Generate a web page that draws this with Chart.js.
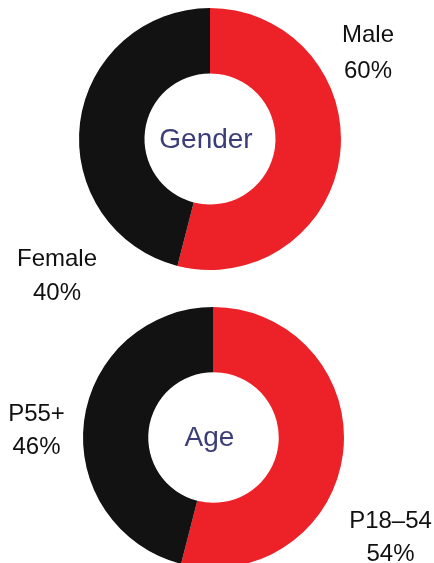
<!DOCTYPE html>
<html>
<head>
<meta charset="utf-8">
<script src="https://cdn.jsdelivr.net/npm/chart.js"></script>
<style>
  html, body { margin: 0; padding: 0; background: #fff; }
  body { width: 434px; height: 563px; overflow: hidden; position: relative; }
  .box { position: absolute; left: 0; width: 434px; }
</style>
</head>
<body>
<div class="box" style="top:0;height:320px"><canvas id="genderChart" width="434" height="320"></canvas></div>
<div class="box" style="top:290px;height:290px"><canvas id="ageChart" width="434" height="290"></canvas></div>
<script>
// data
const genderCategories = ["Male", "Female"];
const genderValues = [54, 46];          // share as drawn on the ring
const genderPercentText = ["60%", "40%"]; // text printed beside it
const ageCategories = ["P18–54", "P55+"];
const ageValues = [54, 46];
const agePercentText = ["54%", "46%"];

const RED = "#ed2229";
const BLACK = "#121212";

// draws the title in the hole and the two-line labels around the ring
const donutText = {
  id: "donutText",
  afterDraw(chart, args, opts) {
    const ctx = chart.ctx;
    const arc = chart.getDatasetMeta(0).data[0];
    const cx = arc.x, cy = arc.y;
    ctx.save();
    ctx.textAlign = "center";
    ctx.textBaseline = "middle";
    ctx.fillStyle = "#3b3d78";
    ctx.font = "28px 'Liberation Sans', Arial, sans-serif";
    ctx.fillText(opts.title, cx - 4, cy + 1);

    ctx.fillStyle = "#111";
    ctx.font = "24px 'Liberation Sans', Arial, sans-serif";
    const labels = chart.data.labels;
    opts.spots.forEach((s, i) => {
      ctx.fillText(labels[i], cx + s.dx, cy + s.dy1);
      ctx.fillText(opts.percents[i], cx + s.dx, cy + s.dy2);
    });
    ctx.restore();
  }
};

function makeDonut(id, labels, values, title, percents, padding, spots) {
  return new Chart(document.getElementById(id), {
    type: "doughnut",
    data: {
      labels: labels,
      datasets: [{
        data: values,
        backgroundColor: [RED, BLACK],
        borderWidth: 0
      }]
    },
    options: {
      responsive: false,
      animation: false,
      cutout: "50%",
      layout: { padding: padding },
      plugins: {
        legend: { display: false },
        tooltip: { enabled: false },
        donutText: { title: title, percents: percents, spots: spots }
      }
    },
    plugins: [donutText]
  });
}

makeDonut("genderChart", genderCategories, genderValues, "Gender", genderPercentText,
  { left: 79, right: 93, top: 8, bottom: 50 },
  [{ dx: 158, dy1: -104, dy2: -68 }, { dx: -153, dy1: 120, dy2: 154 }]);

makeDonut("ageChart", ageCategories, ageValues, "Age", agePercentText,
  { left: 83, right: 90, top: 17, bottom: 12 },
  [{ dx: 177, dy1: 84, dy2: 117 }, { dx: -177, dy1: -23, dy2: 10 }]);
</script>
</body>
</html>
